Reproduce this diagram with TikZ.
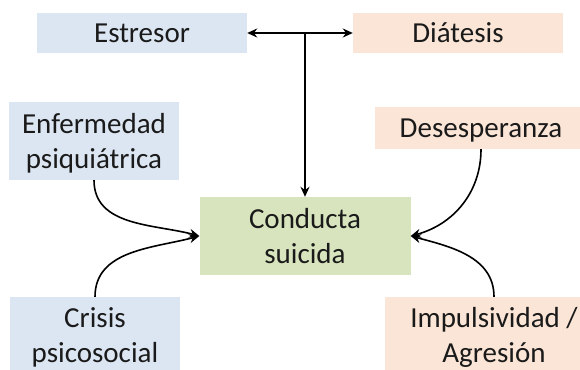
\documentclass[tikz,border=0pt]{standalone}
\usepackage{fontspec}
\setmainfont{Carlito}
\usetikzlibrary{arrows.meta}
\definecolor{boxblue}{HTML}{DCE6F2}
\definecolor{boxpink}{HTML}{FBE5D6}
\definecolor{boxgreen}{HTML}{D7E4BD}
\definecolor{inktext}{HTML}{1A1A1A}
\tikzset{
box/.style={inner sep=0pt, align=center, text depth=0pt, text=inktext, font=\fontsize{29}{35}\selectfont},
bluebox/.style={box, fill=boxblue},
pinkbox/.style={box, fill=boxpink},
greenbox/.style={box, fill=boxgreen},
link/.style={line width=1.6pt, draw=black}
}

\begin{document}
\begin{tikzpicture}[x=1pt, y=-1pt, >={Stealth[length=10pt,width=9pt]}]
\clip (0,0) rectangle (580,369);
\node[bluebox, minimum width=210pt, minimum height=40pt] (estresor) at (142,33) {Estresor};
\node[pinkbox, minimum width=210pt, minimum height=40pt] (diatesis) at (458,33) {Diátesis};
\node[bluebox, minimum width=170pt, minimum height=78pt] (enfermedad) at (94,141) {Enfermedad\\psiquiátrica};
\node[pinkbox, minimum width=212pt, minimum height=42pt] (desesperanza) at (481,128) {Desesperanza};
\node[greenbox, minimum width=211pt, minimum height=78pt] (conducta) at (305,236) {Conducta\\suicida};
\node[bluebox, minimum width=170pt, minimum height=76pt] (crisis) at (95,335) {Crisis\\psicosocial};
\node[pinkbox, minimum width=218pt, minimum height=76pt] (impulsividad) at (494,335) {Impulsividad /\\Agresión};
\draw[link, <->] (estresor) -- (diatesis);
\draw[link, ->] (estresor.east -| conducta.north) -- (conducta);
\draw[link, ->] (enfermedad.south) to[out=-90, in=165] (conducta.west);
\draw[link, ->] (crisis.north) to[out=90, in=195] (conducta.west);
\draw[link, ->] (desesperanza.south) to[out=-90, in=15] (conducta.east);
\draw[link, ->] (impulsividad.north) to[out=90, in=-15] (conducta.east);
\end{tikzpicture}
\end{document}
